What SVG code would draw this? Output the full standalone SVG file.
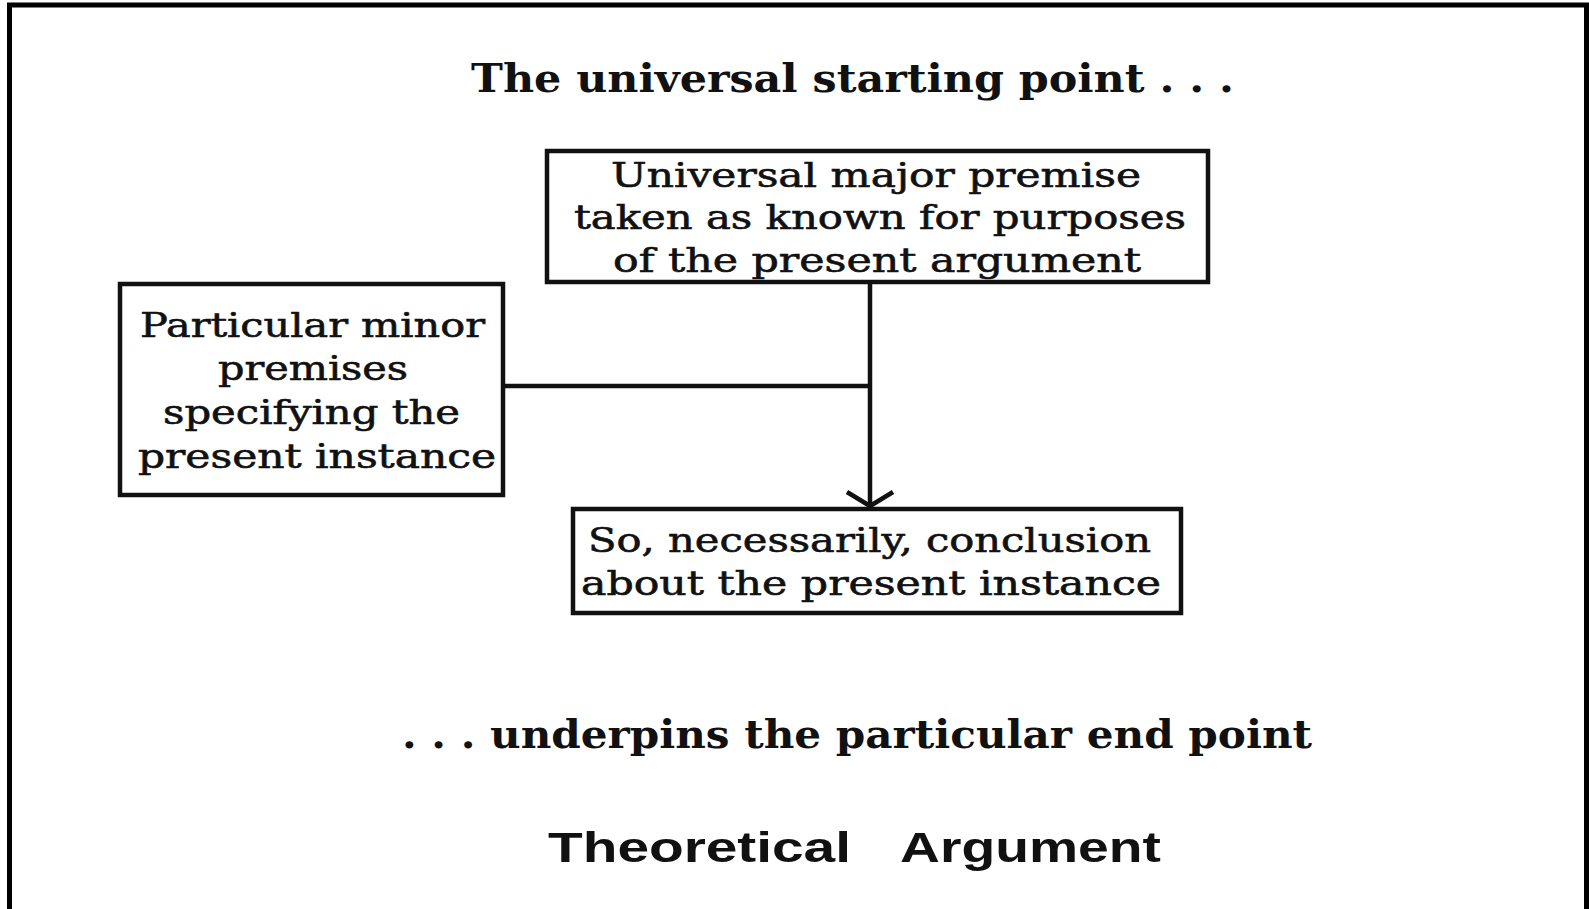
<svg xmlns="http://www.w3.org/2000/svg" width="1589" height="909" viewBox="0 0 1589 909">
  <defs>
    <style>
      .box { fill: #ffffff; stroke: #111111; stroke-width: 4.5; }
      .line { fill: none; stroke: #111111; stroke-width: 4.5; }
      .serif { font-family: "DejaVu Serif", "Liberation Serif", serif; fill: #111111; }
      .boxtxt { font-size: 33px; stroke: #111111; stroke-width: 0.6; }
      .head { font-size: 40px; font-weight: bold; }
      .sans { font-family: "Liberation Sans", Arial, sans-serif; font-weight: bold; font-size: 42px; fill: #111111; }
    </style>
  </defs>
  <rect x="0" y="0" width="1589" height="909" fill="#ffffff"/>
  <path d="M9.5,909 V5 H1586.5 V909" fill="none" stroke="#000000" stroke-width="5"/>

  <text class="serif head" x="471" y="92" textLength="763" lengthAdjust="spacingAndGlyphs">The universal starting point . . .</text>

  <g id="connectors">
    <line class="line" x1="496" y1="386" x2="870" y2="386"/>
    <line class="line" x1="870" y1="282" x2="870" y2="505"/>
    <path class="line" d="M847,492 L870,506 L893,492" stroke-width="5.5"/>
  </g>

  <g id="major">
    <rect class="box" x="547" y="151" width="661" height="131"/>
    <text class="serif boxtxt" x="611" y="187" textLength="530" lengthAdjust="spacingAndGlyphs">Universal major premise</text>
    <text class="serif boxtxt" x="574" y="229" textLength="612" lengthAdjust="spacingAndGlyphs">taken as known for purposes</text>
    <text class="serif boxtxt" x="613" y="272" textLength="528" lengthAdjust="spacingAndGlyphs">of the present argument</text>
  </g>

  <g id="minor">
    <rect class="box" x="120" y="284" width="383" height="211"/>
    <text class="serif boxtxt" x="140" y="337" textLength="345" lengthAdjust="spacingAndGlyphs">Particular minor</text>
    <text class="serif boxtxt" x="218" y="380" textLength="190" lengthAdjust="spacingAndGlyphs">premises</text>
    <text class="serif boxtxt" x="163" y="424" textLength="297" lengthAdjust="spacingAndGlyphs">specifying the</text>
    <text class="serif boxtxt" x="138" y="468" textLength="358" lengthAdjust="spacingAndGlyphs">present instance</text>
  </g>

  <g id="conclusion">
    <rect class="box" x="573" y="509" width="608" height="104"/>
    <text class="serif boxtxt" x="588" y="552" textLength="563" lengthAdjust="spacingAndGlyphs">So, necessarily, conclusion</text>
    <text class="serif boxtxt" x="581" y="595" textLength="580" lengthAdjust="spacingAndGlyphs">about the present instance</text>
  </g>

  <text class="serif head" x="402" y="748" font-size="42" textLength="910" lengthAdjust="spacingAndGlyphs">. . . underpins the particular end point</text>

  <text class="sans" x="548" y="862" textLength="303" lengthAdjust="spacingAndGlyphs">Theoretical</text>
  <text class="sans" x="900" y="862" textLength="261" lengthAdjust="spacingAndGlyphs">Argument</text>
</svg>
